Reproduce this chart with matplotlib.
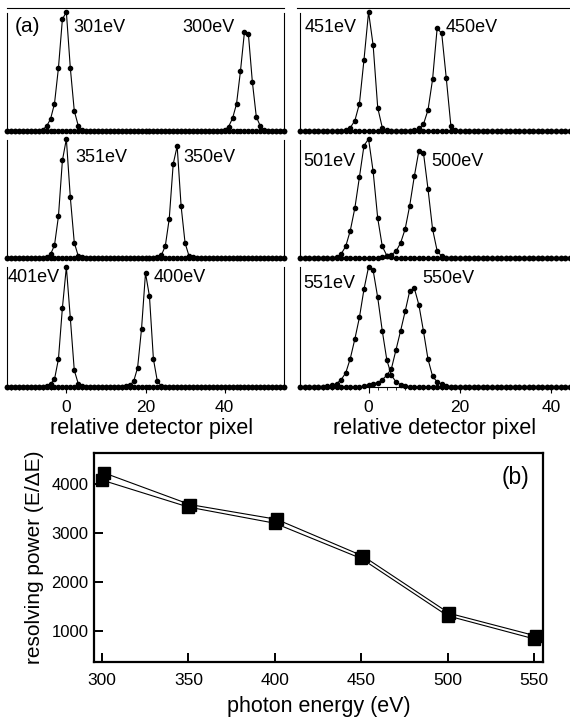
import matplotlib
matplotlib.use("Agg")
import matplotlib.pyplot as plt
from matplotlib.lines import Line2D
from matplotlib.ticker import MultipleLocator
import numpy as np

plt.rcParams['font.family'] = ['Liberation Sans', 'DejaVu Sans']

W, H = 570, 719  # figure size in px

# ---- panel (a): detector profiles, counts normalised to the highest peak ----
pixels = np.arange(-15, 56)

# (first pixel, values) ; everything outside the listed range sits on the baseline (0)
peak_301 = (-6, [0.01, 0.04, 0.10, 0.23, 0.53, 0.94, 1.00, 0.53, 0.17, 0.045, 0.01])
peak_300 = (40, [0.01, 0.036, 0.107, 0.227, 0.504, 0.83, 0.815, 0.414, 0.12, 0.042, 0.01])
peak_451 = (-5, [0.01, 0.028, 0.087, 0.23, 0.60, 1.00, 0.72, 0.196, 0.028, 0.005])
peak_450 = (10, [0.005, 0.022, 0.056, 0.176, 0.434, 0.863, 0.82, 0.443, 0.045, 0.005])
peak_351 = (-5, [0.01, 0.031, 0.107, 0.35, 0.82, 1.00, 0.51, 0.13, 0.017, 0.005])
peak_350 = (23, [0.005, 0.023, 0.10, 0.33, 0.79, 0.94, 0.435, 0.126, 0.017, 0.005])
peak_501 = (-8, [0.003, 0.006, 0.034, 0.098, 0.23, 0.42, 0.68, 0.945, 1.00, 0.727, 0.335,
                 0.098, 0.02, 0.008])
peak_500 = (3, [0.01, 0.02, 0.028, 0.056, 0.126, 0.243, 0.44, 0.685, 0.90, 0.886, 0.58,
                0.243, 0.06, 0.014, 0.004])
peak_401 = (-5, [0.008, 0.028, 0.064, 0.233, 0.66, 1.00, 0.575, 0.14, 0.028, 0.005])
peak_400 = (15, [0.005, 0.014, 0.047, 0.16, 0.486, 0.95, 0.756, 0.233, 0.047, 0.01])
peak_551 = (-10, [0.004, 0.008, 0.013, 0.028, 0.061, 0.117, 0.237, 0.40, 0.58, 0.816, 1.00,
                  0.972, 0.746, 0.467, 0.224, 0.098, 0.042, 0.02, 0.008, 0.004])
peak_550 = (-1, [0.01, 0.02, 0.028, 0.036, 0.061, 0.098, 0.153, 0.31, 0.467, 0.63, 0.80,
                 0.824, 0.685, 0.467, 0.232, 0.09, 0.042, 0.022, 0.008, 0.004])

# label text, left x px, centre y px
peak_labels = [
    ("301eV", 73, 27), ("300eV", 182, 27), ("451eV", 305, 28), ("450eV", 446, 28),
    ("351eV", 75, 157), ("350eV", 183, 157), ("501eV", 303, 162), ("500eV", 431, 162),
    ("401eV", 8, 278), ("400eV", 154, 278), ("551eV", 303, 283), ("550eV", 422, 279),
]

# ---- panel (b): resolving power ----
energy_a = [301, 351, 401, 451, 501, 551]
power_a = [4230, 3580, 3280, 2530, 1360, 900]
energy_b = [300, 350, 400, 450, 500, 550]
power_b = [4080, 3530, 3200, 2480, 1310, 840]


def full_curve(peak):
    start, vals = peak
    y = np.zeros(len(pixels))
    i0 = start - pixels[0]
    y[i0:i0 + len(vals)] = vals
    return y


def px_axes(left, top, right, bottom):
    return fig.add_axes([left / W, 1 - bottom / H, (right - left) / W, (bottom - top) / H])


fig = plt.figure(figsize=(W / 100, H / 100), dpi=100)

rows = [  # (top px, baseline px, ymax, left-col peaks, right-col peaks)
    (13, 131, 118 / 119, (peak_301, peak_300), (peak_451, peak_450)),
    (140, 258, 118 / 119, (peak_351, peak_350), (peak_501, peak_500)),
    (267, 387, 1.0, (peak_401, peak_400), (peak_551, peak_550)),
]
cols = [(7, 284), (300, 620)]

for r, (top, base, ymax, lpeaks, rpeaks) in enumerate(rows):
    for c, peaks in enumerate((lpeaks, rpeaks)):
        ax = px_axes(cols[c][0], top, cols[c][1], base)
        for pk in peaks:
            ax.plot(pixels, full_curve(pk), color='black', lw=0.8, marker='o',
                    ms=3.0, clip_on=False)
        ax.set_xlim(-15, 55)
        ax.set_ylim(0, ymax)
        ax.set_yticks([])
        ax.spines['top'].set_visible(False)
        ax.spines['right'].set_visible(c == 0)
        for s in ax.spines.values():
            s.set_linewidth(0.8)
        if r == 2:
            ax.xaxis.set_major_locator(MultipleLocator(20))
            ax.xaxis.set_minor_locator(MultipleLocator(2))
            ax.tick_params(axis='x', which='major', direction='out', length=4,
                           width=0.8, labelsize=12.5, pad=5)
            ax.tick_params(axis='x', which='minor', direction='out', length=2.5, width=0.6)
        else:
            ax.set_xticks([])

# separator line across the top
fig.add_artist(Line2D([7 / W, 284 / W], [1 - 8 / H] * 2, color='black', lw=0.8))
fig.add_artist(Line2D([297 / W, 1.0], [1 - 8 / H] * 2, color='black', lw=0.8))

fig.text(15 / W, 1 - 26 / H, "(a)", fontsize=15, va='center', ha='left')
for txt, x, y in peak_labels:
    fig.text(x / W, 1 - y / H, txt, fontsize=13, va='center', ha='left')

fig.text(152 / W, 1 - 428 / H, "relative detector pixel", fontsize=15.5,
         va='center', ha='center')
fig.text(435 / W, 1 - 428 / H, "relative detector pixel", fontsize=15.5,
         va='center', ha='center')

# ---- panel (b) ----
axb = px_axes(94, 453, 543, 662)
axb.plot(energy_a, power_a, color='black', lw=0.8, marker='s', ms=8.5)
axb.plot(energy_b, power_b, color='black', lw=0.8, marker='s', ms=8.5)
axb.set_xlim(295.4, 555.2)
axb.set_ylim(367, 4633)
axb.set_xticks([300, 350, 400, 450, 500, 550])
axb.set_yticks([1000, 2000, 3000, 4000])
for s in axb.spines.values():
    s.set_linewidth(1.6)
axb.tick_params(axis='x', direction='in', length=6.5, width=1.4, labelsize=12.5, pad=8)
axb.tick_params(axis='y', direction='in', length=6.5, width=1.4, labelsize=12, pad=4)
axb.set_xlabel("photon energy (eV)", fontsize=15.5, labelpad=6)
axb.set_ylabel("resolving power (E/\u0394E)", fontsize=15, labelpad=5)
axb.text(0.97, 0.885, "(b)", transform=axb.transAxes, fontsize=16.5, ha='right', va='center')

fig.savefig("out.png", dpi=100)
